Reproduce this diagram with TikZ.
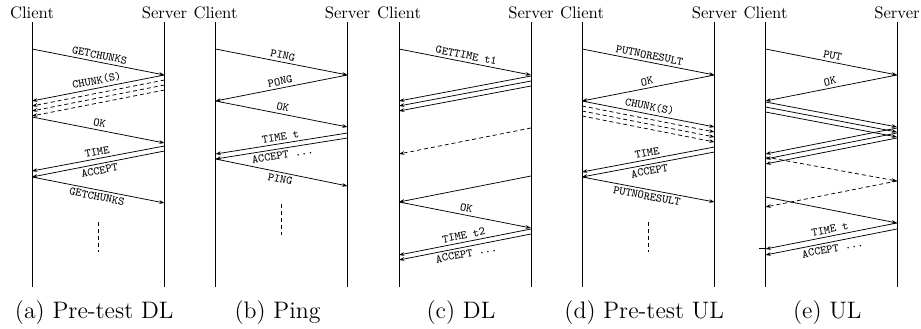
\documentclass[tikz,border=0pt]{standalone}
\usetikzlibrary{arrows.meta,calc,positioning}
\tikzset{
    party/.style={inner sep=1pt},
    life/.style={line width=0.6pt},
    msg/.style={line width=0.45pt,-{Stealth[length=3.2pt,width=2.2pt]}},
    lost/.style={msg,dash pattern=on 2.4pt off 1.8pt},
    gap/.style={line width=0.45pt,dash pattern=on 2.4pt off 1.8pt},
    lbl/.style={font=\ttfamily\scriptsize,sloped,inner sep=1.6pt},
    subcap/.style={font=\fontsize{14.3}{17}\selectfont,inner sep=0pt},
}

\begin{document}
\begin{tikzpicture}[x=0.6pt,y=-0.6pt]
  \useasboundingbox (0,0) rectangle (921,329);

  % (a) Pre-test DL
  \begin{scope}[name prefix=a-]
    \node[party] (c) at (32,13) {Client};
    \node[party] (s) at (164.5,13) {Server};
    \coordinate (m) at ($(c)!.5!(s)$);
    \draw[life] (c|-0,22) -- (c|-0,287);
    \draw[life] (s|-0,22) -- (s|-0,287);
    \draw[msg] (c|-0,49) -- node[lbl,above]{GETCHUNKS} (s|-0,75);
    \draw[msg] (s|-0,75) -- node[lbl,above]{CHUNK(S)} (c|-0,101);
    \foreach \d in {5,10,15}
      \draw[lost] (s|-0,{75+\d}) -- (c|-0,{101+\d});
    \draw[msg] (c|-0,117) -- node[lbl,above]{OK} (s|-0,143);
    \draw[msg] (s|-0,146) -- node[lbl,above]{TIME} (c|-0,171);
    \draw[msg] (s|-0,151) -- node[lbl,below]{ACCEPT} (c|-0,177);
    \draw[msg] (c|-0,177) -- node[lbl,below]{GETCHUNKS} (s|-0,203);
    \draw[gap] (m|-0,222) -- (m|-0,252);
    \node[subcap] (cap) at ($(m|-0,313)+(-4,0)$) {(a) Pre-test DL};
  \end{scope}

  % (b) Ping
  \begin{scope}[name prefix=b-]
    \node[party] (c) at (215.5,13) {Client};
    \node[party] (s) at (347.5,13) {Server};
    \coordinate (m) at ($(c)!.5!(s)$);
    \draw[life] (c|-0,22) -- (c|-0,287);
    \draw[life] (s|-0,22) -- (s|-0,287);
    \draw[msg] (c|-0,49) -- node[lbl,above]{PING} (s|-0,75);
    \draw[msg] (s|-0,75) -- node[lbl,above]{PONG} (c|-0,101);
    \draw[msg] (c|-0,101) -- node[lbl,above]{OK} (s|-0,127);
    \draw[msg] (s|-0,133) -- node[lbl,above]{TIME t} (c|-0,154);
    \draw[msg] (s|-0,138) -- node[lbl,below]{ACCEPT ...} (c|-0,159);
    \draw[msg] (c|-0,159) -- node[lbl,below]{PING} (s|-0,186);
    \draw[gap] (m|-0,204) -- (m|-0,235);
    \node[subcap] (cap) at ($(m|-0,313)+(-4,0)$) {(b) Ping};
  \end{scope}

  % (c) DL
  \begin{scope}[name prefix=c-]
    \node[party] (c) at (399,13) {Client};
    \node[party] (s) at (531,13) {Server};
    \coordinate (m) at ($(c)!.5!(s)$);
    \draw[life] (c|-0,22) -- (c|-0,287);
    \draw[life] (s|-0,22) -- (s|-0,287);
    \draw[msg] (c|-0,49) -- node[lbl,above]{GETTIME t1} (s|-0,75);
    \foreach \d in {0,5,10}
      \draw[msg] (s|-0,{76+\d}) -- (c|-0,{101+\d});
    \draw[lost] (s|-0,128) -- (c|-0,154);
    \draw[msg] (s|-0,176) -- (c|-0,202);
    \draw[msg] (c|-0,202) -- node[lbl,above]{OK} (s|-0,228);
    \draw[msg] (s|-0,229) -- node[lbl,above]{TIME t2} (c|-0,255);
    \draw[msg] (s|-0,234) -- node[lbl,below]{ACCEPT ...} (c|-0,260);
    \node[subcap] (cap) at ($(m|-0,313)+(-4,0)$) {(c) DL};
  \end{scope}

  % (d) Pre-test UL
  \begin{scope}[name prefix=d-]
    \node[party] (c) at (582,13) {Client};
    \node[party] (s) at (714.5,13) {Server};
    \coordinate (m) at ($(c)!.5!(s)$);
    \draw[life] (c|-0,22) -- (c|-0,287);
    \draw[life] (s|-0,22) -- (s|-0,287);
    \draw[msg] (c|-0,49) -- node[lbl,above]{PUTNORESULT} (s|-0,75);
    \draw[msg] (s|-0,75) -- node[lbl,above]{OK} (c|-0,101);
    \draw[msg] (c|-0,101) -- node[lbl,above]{CHUNK(S)} (s|-0,127);
    \foreach \d in {5,10,15}
      \draw[lost] (c|-0,{101+\d}) -- (s|-0,{127+\d});
    \draw[msg] (s|-0,147) -- node[lbl,above]{TIME} (c|-0,172);
    \draw[msg] (s|-0,152) -- node[lbl,below]{ACCEPT} (c|-0,177);
    \draw[msg] (c|-0,177) -- node[lbl,below]{PUTNORESULT} (s|-0,202);
    \draw[gap] (m|-0,222) -- (m|-0,252);
    \node[subcap] (cap) at ($(m|-0,313)+(-4,0)$) {(d) Pre-test UL};
  \end{scope}

  % (e) UL
  \begin{scope}[name prefix=e-]
    \node[party] (c) at (765.5,13) {Client};
    \node[party] (s) at (897,13) {Server};
    \coordinate (m) at ($(c)!.5!(s)$);
    \draw[life] (c|-0,22) -- (c|-0,287);
    \draw[life] (s|-0,22) -- (s|-0,287);
    \draw[msg] (c|-0,49) -- node[lbl,above]{PUT} (s|-0,75);
    \draw[msg] (s|-0,75) -- node[lbl,above]{OK} (c|-0,101);
    \foreach \d in {0,5,10}{
      \draw[msg] (c|-0,{102+\d}) -- (s|-0,{127+\d});
      \draw[msg] (s|-0,{128+\d}) -- (c|-0,{154+\d});
    }
    \draw[lost] (c|-0,157) -- (s|-0,181);
    \draw[lost] (s|-0,181) -- (c|-0,207);
    \draw[msg] (c|-0,197) -- (s|-0,223);
    \draw[msg] (s|-0,223) -- node[lbl,above]{TIME t} (c|-0,249);
    \draw[msg] (s|-0,229) -- node[lbl,below]{ACCEPT ...} (c|-0,255);
    \draw[life] (c|-0,249) -- ++(-7,0);
    \node[subcap] (cap) at ($(m|-0,313)+(-4,0)$) {(e) UL};
  \end{scope}
\end{tikzpicture}
\end{document}
